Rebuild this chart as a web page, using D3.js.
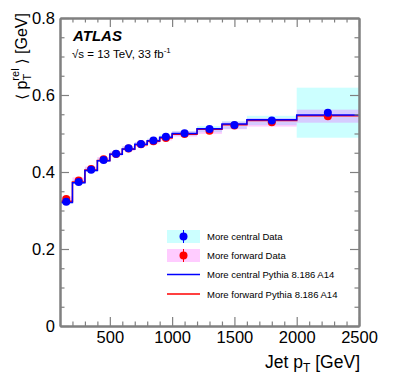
<!DOCTYPE html>
<html>
<head>
<meta charset="utf-8">
<script src="https://cdn.jsdelivr.net/npm/d3@7"></script>
<style>
  body { margin: 0; background: #fff; }
  text { font-family: "Liberation Sans", Arial, sans-serif; }
</style>
</head>
<body>
<div id="chart"></div>
<script>
// Bin edges in jet pT [GeV]
var binEdges = [100, 200, 300, 400, 500, 600, 700, 800, 900, 1000, 1200, 1400, 1600, 2000, 2500];

// Data (more central / more forward jets)
var centralData = [0.323, 0.374, 0.406, 0.431, 0.4475, 0.4615, 0.473, 0.482, 0.4915, 0.5005, 0.5115, 0.522, 0.534, 0.554];
var forwardData = [0.330, 0.378, 0.408, 0.433, 0.447, 0.461, 0.472, 0.480, 0.488, 0.499, 0.507, 0.521, 0.529, 0.545];
var centralStat = [0.002, 0.002, 0.002, 0.002, 0.002, 0.002, 0.002, 0.002, 0.002, 0.002, 0.003, 0.003, 0.004, 0.006];
var forwardStat = [0.002, 0.002, 0.002, 0.002, 0.002, 0.002, 0.002, 0.002, 0.002, 0.002, 0.003, 0.003, 0.004, 0.006];
var centralSyst = [0.005, 0.005, 0.005, 0.005, 0.005, 0.005, 0.005, 0.005, 0.006, 0.006, 0.008, 0.010, 0.012, 0.065];
var forwardSyst = [0.007, 0.008, 0.006, 0.006, 0.006, 0.006, 0.006, 0.006, 0.006, 0.007, 0.008, 0.010, 0.011, 0.017];

// Pythia 8.186 A14 predictions
var centralMC = [0.321, 0.372, 0.404, 0.429, 0.446, 0.460, 0.472, 0.481, 0.490, 0.500, 0.5125, 0.525, 0.536, 0.548];
var forwardMC = [0.324, 0.374, 0.405, 0.430, 0.446, 0.459, 0.471, 0.480, 0.488, 0.498, 0.511, 0.523, 0.534, 0.546];

var xMajor = [500, 1000, 1500, 2000, 2500];
var yMajor = [0, 0.2, 0.4, 0.6, 0.8];

var svgWidth = 399, svgHeight = 379;
var margin = { top: 18, right: 40, bottom: 53, left: 60 };
var width = svgWidth - margin.left - margin.right;
var height = svgHeight - margin.top - margin.bottom;

var svg = d3.select("#chart").append("svg")
    .attr("width", svgWidth)
    .attr("height", svgHeight);

var g = svg.append("g")
    .attr("transform", `translate(${margin.left}, ${margin.top})`);

var x = d3.scaleLinear().domain([100, 2500]).range([0, width]);
var y = d3.scaleLinear().domain([0, 0.8]).range([height, 0]);

var bins = binEdges.slice(0, -1).map(function(lo, i) {
    return {
        lo: lo, hi: binEdges[i + 1], mid: (lo + binEdges[i + 1]) / 2,
        c: centralData[i], f: forwardData[i],
        cs: centralStat[i], fs: forwardStat[i],
        cy: centralSyst[i], fy: forwardSyst[i],
        cm: centralMC[i], fm: forwardMC[i]
    };
});

// Systematic bands
g.selectAll("rect.cband").data(bins).enter().append("rect")
    .attr("x", d => x(d.lo)).attr("width", d => x(d.hi) - x(d.lo))
    .attr("y", d => y(d.c + d.cy)).attr("height", d => y(d.c - d.cy) - y(d.c + d.cy))
    .attr("fill", "rgb(0,255,255)").attr("fill-opacity", 0.2);

g.selectAll("rect.fband").data(bins).enter().append("rect")
    .attr("x", d => x(d.lo)).attr("width", d => x(d.hi) - x(d.lo))
    .attr("y", d => y(d.f + d.fy)).attr("height", d => y(d.f - d.fy) - y(d.f + d.fy))
    .attr("fill", "rgb(255,0,255)").attr("fill-opacity", 0.2);

// MC step lines
function stepPoints(key) {
    var pts = [];
    bins.forEach(function(d) { pts.push([d.lo, d[key]]); pts.push([d.hi, d[key]]); });
    return pts;
}
var line = d3.line().x(d => x(d[0])).y(d => y(d[1]));

g.append("path").datum(stepPoints("fm"))
    .attr("d", line).attr("fill", "none").attr("stroke", "#ff0000").attr("stroke-width", 1.5);
g.append("path").datum(stepPoints("cm"))
    .attr("d", line).attr("fill", "none").attr("stroke", "#0000ff").attr("stroke-width", 1.5);

// Data points
function drawPoints(key, errKey, color) {
    g.selectAll("line.err-" + key).data(bins).enter().append("line")
        .attr("x1", d => x(d.mid)).attr("x2", d => x(d.mid))
        .attr("y1", d => y(d[key] - d[errKey])).attr("y2", d => y(d[key] + d[errKey]))
        .attr("stroke", color).attr("stroke-width", 1);
    g.selectAll("circle.pt-" + key).data(bins).enter().append("circle")
        .attr("cx", d => x(d.mid)).attr("cy", d => y(d[key]))
        .attr("r", 4).attr("fill", color);
}
drawPoints("f", "fs", "#ff0000");
drawPoints("c", "cs", "#0000ff");

// Axes and ticks
var axisColor = "#808080";
function styleAxis(sel) {
    sel.select(".domain").attr("stroke", axisColor).attr("stroke-width", 2);
    sel.selectAll(".tick line").attr("stroke", axisColor).attr("stroke-width", 1.2);
    sel.selectAll(".tick text").attr("font-size", 16.5).attr("fill", "#000")
        .attr("font-family", "'Liberation Sans', Arial, sans-serif");
}
var xMinor = d3.range(200, 2500, 100).filter(v => v % 500 !== 0);
var yMinor = d3.range(0.05, 0.8, 0.05).filter(v => Math.abs(v * 5 - Math.round(v * 5)) > 1e-6);

// bottom
g.append("g").attr("transform", `translate(0, ${height})`)
    .call(d3.axisBottom(x).tickValues(xMinor).tickSize(-4.5).tickFormat("").tickSizeOuter(0)).call(styleAxis);
g.append("g").attr("transform", `translate(0, ${height})`)
    .call(d3.axisBottom(x).tickValues(xMajor).tickSize(-9).tickSizeOuter(0).tickPadding(5)
        .tickFormat(d3.format("d"))).call(styleAxis);
// top
g.append("g")
    .call(d3.axisTop(x).tickValues(xMinor).tickSize(-4.5).tickFormat("").tickSizeOuter(0)).call(styleAxis);
g.append("g")
    .call(d3.axisTop(x).tickValues(xMajor).tickSize(-9).tickFormat("").tickSizeOuter(0)).call(styleAxis);
// left
g.append("g")
    .call(d3.axisLeft(y).tickValues(yMinor).tickSize(-4.5).tickFormat("").tickSizeOuter(0)).call(styleAxis);
g.append("g")
    .call(d3.axisLeft(y).tickValues(yMajor).tickSize(-9).tickSizeOuter(0).tickPadding(5)
        .tickFormat(d => d === 0 ? "0" : d3.format(".1f")(d))).call(styleAxis);
// right
g.append("g").attr("transform", `translate(${width}, 0)`)
    .call(d3.axisRight(y).tickValues(yMinor).tickSize(-4.5).tickFormat("").tickSizeOuter(0)).call(styleAxis);
g.append("g").attr("transform", `translate(${width}, 0)`)
    .call(d3.axisRight(y).tickValues(yMajor).tickSize(-9).tickFormat("").tickSizeOuter(0)).call(styleAxis);

// Axis titles
var xt = svg.append("text")
    .attr("x", margin.left + width + 1).attr("y", 368)
    .attr("text-anchor", "end").attr("font-size", 17.5);
xt.append("tspan").text("Jet p");
xt.append("tspan").attr("font-size", 12).attr("dy", 4).text("T");
xt.append("tspan").attr("dy", -4).text(" [GeV]");

var yt = svg.append("text")
    .attr("transform", "translate(27, 13) rotate(-90)")
    .attr("text-anchor", "end").attr("font-size", 16);
yt.append("tspan").attr("font-family", "'DejaVu Sans', sans-serif").attr("font-size", 15).text("\u27E8");
yt.append("tspan").text(" p");
yt.append("tspan").attr("font-size", 11).attr("dy", -8).text("rel");
yt.append("tspan").attr("font-size", 11).attr("dx", -12).attr("dy", 12).text("T");
yt.append("tspan").attr("dx", 5).attr("dy", -4).text(" ");
yt.append("tspan").attr("font-family", "'DejaVu Sans', sans-serif").attr("font-size", 15).text("\u27E9");
yt.append("tspan").text(" [GeV]");

// ATLAS label
svg.append("text").attr("x", 73).attr("y", 41)
    .attr("font-size", 15).attr("font-weight", "bold").attr("font-style", "italic")
    .text("ATLAS");
var en = svg.append("text").attr("x", 72).attr("y", 58).attr("font-size", 11.5);
en.append("tspan").text("\u221As = 13 TeV, 33 fb");
en.append("tspan").attr("font-size", 8).attr("dy", -5).text("-1");

// Legend
var legendItems = [
    { label: "More central Data", type: "data", color: "#0000ff", band: "rgb(204,255,255)" },
    { label: "More forward Data", type: "data", color: "#ff0000", band: "rgb(255,204,255)" },
    { label: "More central Pythia 8.186 A14", type: "line", color: "#0000ff" },
    { label: "More forward Pythia 8.186 A14", type: "line", color: "#ff0000" }
];
var legendY = [236.5, 255.5, 274.5, 294];
var legend = svg.append("g");
legendItems.forEach(function(item, i) {
    var ly = legendY[i];
    if (item.type === "data") {
        legend.append("rect").attr("x", 167).attr("y", ly - 6.5).attr("width", 33).attr("height", 13)
            .attr("fill", item.band);
        legend.append("line").attr("x1", 183.5).attr("x2", 183.5).attr("y1", ly - 6.5).attr("y2", ly + 6.5)
            .attr("stroke", item.color).attr("stroke-width", 1);
        legend.append("circle").attr("cx", 183.5).attr("cy", ly).attr("r", 4).attr("fill", item.color);
    } else {
        legend.append("line").attr("x1", 167).attr("x2", 200).attr("y1", ly).attr("y2", ly)
            .attr("stroke", item.color).attr("stroke-width", 1.5);
    }
    legend.append("text").attr("x", 207).attr("y", ly + 3.5).attr("font-size", 9.5).text(item.label);
});
</script>
</body>
</html>
